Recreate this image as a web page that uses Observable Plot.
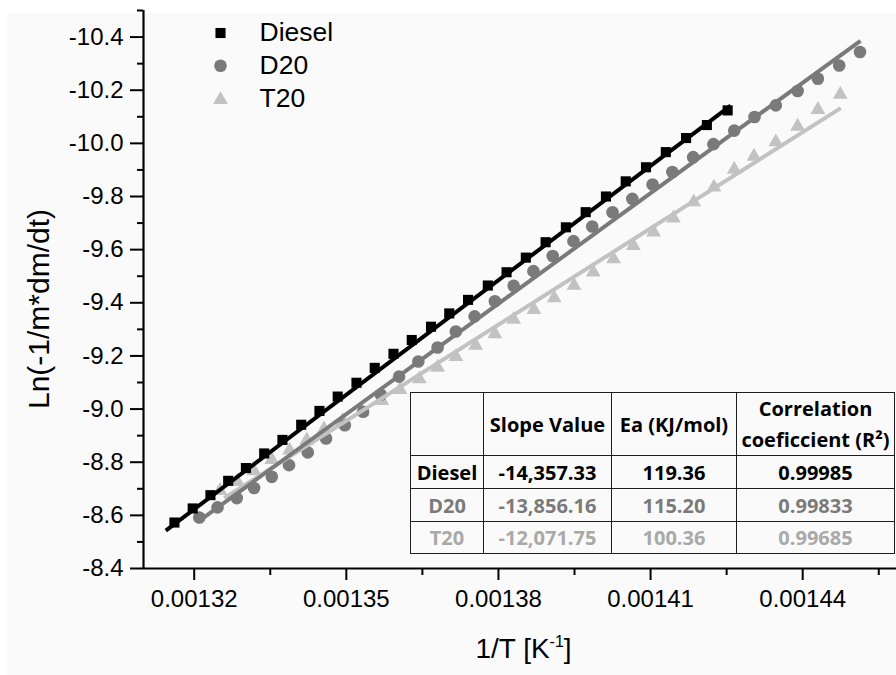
<!DOCTYPE html>
<html>
<head>
<meta charset="utf-8">
<script src="https://cdn.jsdelivr.net/npm/d3@7"></script>
<script src="https://cdn.jsdelivr.net/npm/@observablehq/plot@0.6"></script>
<style>
html, body { margin: 0; padding: 0; background: #ffffff; }
#wrap { position: relative; width: 896px; height: 675px; overflow: hidden; background: #ffffff; }
#tint { position: absolute; left: 7px; top: 13px; right: 0; bottom: 0; background: #fafafa; }
#wrap svg { position: absolute; left: 0; top: 0; }
#tbl { position: absolute; left: 410px; top: 392px; border-collapse: collapse; table-layout: fixed;
  font-family: "Open Sans", Lato, sans-serif; font-weight: 700; font-size: 20px; }
#tbl td { border: 1.6px solid #1e1e1e; text-align: center; padding: 0; white-space: nowrap; }
#tbl tr.head td { height: 62px; line-height: 31px; color: #000; }
#tbl tr.r0 td { height: 32px; color: #000; }
#tbl tr.r1 td { height: 32px; color: #7a7a7a; }
#tbl tr.r2 td { height: 31px; color: #a9a9a9; }
</style>
</head>
<body>
<div id="wrap"><div id="tint"></div></div>
<script>
// ---------------- data ----------------
const seriesNames = ["Diesel", "D20", "T20"];

const dieselX = [0.0013161, 0.0013197, 0.0013232, 0.0013267, 0.0013302, 0.0013338, 0.0013374, 0.0013411, 0.0013447, 0.0013483,
  0.0013520, 0.0013556, 0.0013593, 0.0013629, 0.0013667, 0.0013703, 0.0013740, 0.0013779, 0.0013816, 0.0013854,
  0.0013893, 0.0013933, 0.0013972, 0.0014012, 0.0014051, 0.0014091, 0.0014130, 0.0014170, 0.0014211, 0.0014252];
const dieselY = [-8.573, -8.626, -8.676, -8.730, -8.778, -8.833, -8.884, -8.941, -8.993, -9.047,
  -9.099, -9.155, -9.208, -9.260, -9.310, -9.360, -9.411, -9.465, -9.515, -9.570,
  -9.628, -9.684, -9.741, -9.800, -9.857, -9.910, -9.967, -10.020, -10.069, -10.124];

const d20X = [0.0013210, 0.0013246, 0.0013284, 0.0013318, 0.0013353, 0.0013387, 0.0013424, 0.0013460, 0.0013497, 0.0013533,
  0.0013568, 0.0013604, 0.0013642, 0.0013680, 0.0013716, 0.0013753, 0.0013793, 0.0013830, 0.0013869, 0.0013907,
  0.0013948, 0.0013985, 0.0014025, 0.0014064, 0.0014104, 0.0014143, 0.0014184, 0.0014224, 0.0014265, 0.0014305,
  0.0014347, 0.0014390, 0.0014430, 0.0014472, 0.0014513];
const d20Y = [-8.592, -8.630, -8.665, -8.703, -8.745, -8.789, -8.837, -8.889, -8.939, -8.990,
  -9.054, -9.122, -9.179, -9.232, -9.292, -9.349, -9.406, -9.464, -9.519, -9.576,
  -9.632, -9.687, -9.741, -9.791, -9.845, -9.892, -9.948, -9.997, -10.048, -10.099,
  -10.143, -10.197, -10.243, -10.293, -10.344];

const t20X = [0.0013251, 0.0013285, 0.0013318, 0.0013353, 0.0013388, 0.0013422, 0.0013456, 0.0013493, 0.0013531, 0.0013570,
  0.0013606, 0.0013644, 0.0013680, 0.0013716, 0.0013755, 0.0013793, 0.0013830, 0.0013870, 0.0013910, 0.0013949,
  0.0013987, 0.0014027, 0.0014066, 0.0014106, 0.0014145, 0.0014185, 0.0014225, 0.0014265, 0.0014304, 0.0014347,
  0.0014390, 0.0014430, 0.0014474];
const t20Y = [-8.693, -8.727, -8.767, -8.809, -8.845, -8.883, -8.925, -8.956, -8.990, -9.031,
  -9.073, -9.113, -9.157, -9.197, -9.239, -9.283, -9.337, -9.374, -9.418, -9.465,
  -9.515, -9.565, -9.615, -9.666, -9.718, -9.779, -9.835, -9.902, -9.951, -10.005,
  -10.064, -10.127, -10.184];

// linear fits: slope from the table, intercept and range
const slopes = [-14357.33, -13856.16, -12071.75];
const intercepts = [10.3285, 9.7247, 7.3411];
const fitFrom = [0.0013144, 0.0013207, 0.0013259];
const fitTo = [0.0014258, 0.0014514, 0.0014475];

// table values
const eaValues = [119.36, 115.20, 100.36];
const r2Values = [0.99985, 0.99833, 0.99685];
const tableHeader = ["", "Slope Value", "Ea (KJ/mol)", "Correlation", "coeficcient (R\u00B2)"];

// axes
const xMajor = [0.00132, 0.00135, 0.00138, 0.00141, 0.00144];
const xMinor = [0.001335, 0.001365, 0.001395, 0.001425, 0.001455];
const yMajor = [-8.4, -8.6, -8.8, -9.0, -9.2, -9.4, -9.6, -9.8, -10.0, -10.2, -10.4];
const yMinor = [-8.5, -8.7, -8.9, -9.1, -9.3, -9.5, -9.7, -9.9, -10.1, -10.3, -10.5];
const xTitleParts = ["1/T [K", "-1", "]"];
const yTitle = "Ln(-1/m*dm/dt)";

// ---------------- styles ----------------
const colors = ["#000000", "#7a7a7a", "#c2c2c2"];
const symbols = ["square", "circle", "triangle"];
const radii = [5.7, 6.3, 5.5];

// ---------------- build ----------------
const xs = [dieselX, d20X, t20X];
const ys = [dieselY, d20Y, t20Y];
const points = seriesNames.map((s, k) => xs[k].map((x, i) => ({series: s, x, y: ys[k][i]})));
const fits = seriesNames.map((s, k) => [fitFrom[k], fitTo[k]].map(x => ({series: s, x, y: slopes[k] * x + intercepts[k]})));

const font = "'Liberation Sans', Arial, sans-serif";
const marks = [
  Plot.axisX(xMinor, {tickSize: 7, tickFormat: () => "", strokeWidth: 2, label: null}),
  Plot.axisX(xMajor, {tickSize: 12, tickPadding: 9, tickFormat: d => d.toFixed(5), strokeWidth: 2, fontSize: 24, label: null}),
  Plot.axisY(yMinor, {tickSize: 6, tickFormat: () => "", strokeWidth: 2, label: null}),
  Plot.axisY(yMajor, {tickSize: 13, tickPadding: 7, tickFormat: d => d.toFixed(1), strokeWidth: 2, fontSize: 24, label: null}),
  Plot.ruleX([0.00131], {strokeWidth: 2.2, stroke: "#000"}),
  Plot.ruleY([-8.4], {strokeWidth: 2.2, stroke: "#000"})
];
// dots (back to front: T20, D20, Diesel)
for (const k of [2, 1, 0]) {
  marks.push(Plot.dot(points[k], {x: "x", y: "y", symbol: symbols[k], fill: colors[k], r: radii[k]}));
}
// fit lines on top
for (const k of [2, 1, 0]) {
  marks.push(Plot.line(fits[k], {x: "x", y: "y", stroke: colors[k], strokeWidth: 4, strokeLinecap: "butt"}));
}
// legend
const legendDy = [22.5, 55.3, 88.3];
seriesNames.forEach((s, k) => {
  marks.push(Plot.dot([s], {frameAnchor: "top-left", dx: 77, dy: legendDy[k] + (k === 2 ? 1 : 0), symbol: symbols[k], fill: colors[k], r: radii[k]}));
  marks.push(Plot.text([s], {frameAnchor: "top-left", dx: 116, dy: legendDy[k], text: d => d, textAnchor: "start", lineAnchor: "middle", fontSize: 26.5, fill: "#000"}));
});
// axis titles
marks.push(Plot.text([yTitle], {frameAnchor: "left", dx: -104.5, dy: 19.5, rotate: -90, text: d => d, textAnchor: "middle", lineAnchor: "middle", fontSize: 30, fill: "#000"}));
marks.push(Plot.text([xTitleParts.join("")], {frameAnchor: "bottom", dx: 3.5, dy: 80.5, text: d => d, textAnchor: "middle", lineAnchor: "middle", fontSize: 28, fill: "#000"}));

const chart = Plot.plot({
  width: 896, height: 675,
  marginLeft: 143, marginRight: 0, marginTop: 10, marginBottom: 107,
  style: {fontFamily: font, fontSize: "24px", background: "transparent", color: "#000"},
  x: {domain: [0.00131, 0.0014585]},
  y: {domain: [-8.4, -10.5]},
  marks
});
document.getElementById("wrap").appendChild(chart);

// superscript in the x title
d3.select(chart).selectAll("text")
  .filter(function () { return this.textContent === xTitleParts.join(""); })
  .each(function () {
    const t = d3.select(this);
    t.text(null);
    t.append("tspan").text(xTitleParts[0]);
    t.append("tspan").attr("dy", -11).attr("font-size", 16).text(xTitleParts[1]);
    t.append("tspan").attr("dy", 11).text(xTitleParts[2]);
  });

// table
const loc = d3.formatLocale({decimal: ".", thousands: ",", grouping: [3], currency: ["", ""], minus: "-"});
const fSlope = loc.format(",.2f");
const tbl = d3.select("#wrap").append("table").attr("id", "tbl");
const colW = [73, 128, 125, 158];
tbl.append("colgroup").selectAll("col").data(colW).join("col").style("width", d => d + "px");
const head = tbl.append("tr").attr("class", "head");
head.append("td").text(tableHeader[0]);
head.append("td").text(tableHeader[1]);
head.append("td").text(tableHeader[2]);
head.append("td").html(tableHeader[3] + "<br>" + tableHeader[4]);
seriesNames.forEach((s, k) => {
  const tr = tbl.append("tr").attr("class", "r" + k);
  tr.append("td").text(s);
  tr.append("td").text(fSlope(slopes[k]));
  tr.append("td").text(eaValues[k].toFixed(2));
  tr.append("td").text(r2Values[k].toFixed(5));
});
</script>
</body>
</html>
